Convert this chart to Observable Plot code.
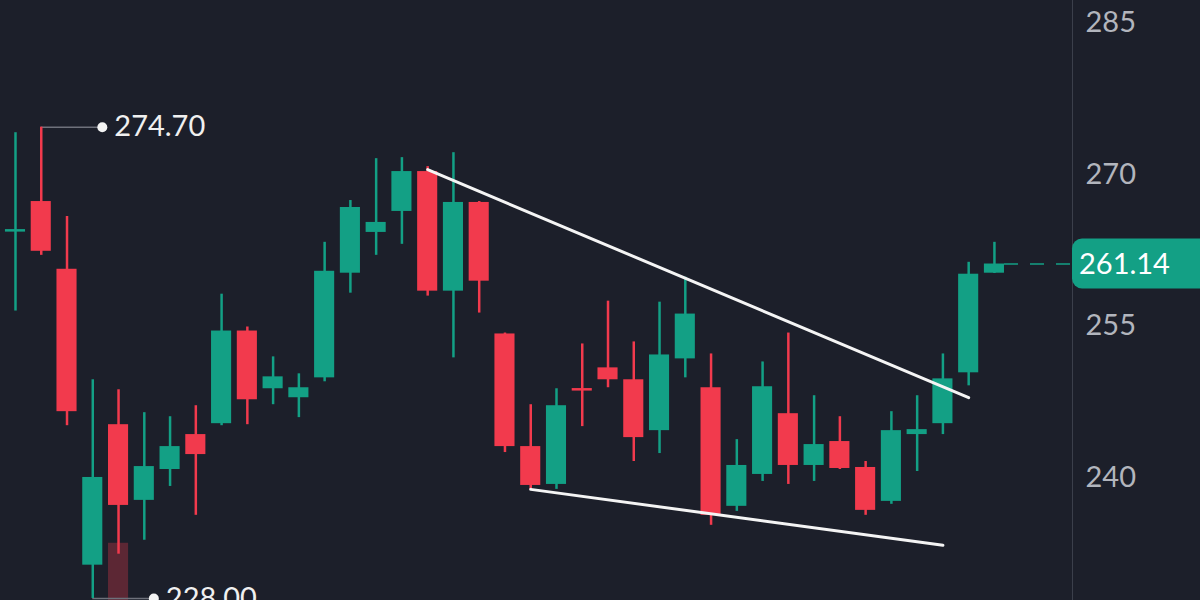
<!DOCTYPE html>
<html><head><meta charset="utf-8">
<script src="https://cdn.jsdelivr.net/npm/d3@7"></script>
<script src="https://cdn.jsdelivr.net/npm/@observablehq/plot@0.6"></script>
<style>html,body{margin:0;padding:0;background:#1c1f2a;overflow:hidden}</style>
</head><body><div id="chart"></div>
<script>
// OHLC data, one entry per candle (index 0..38)
const opens  = [264.30, 267.33, 260.62, 231.30, 245.22, 237.72, 240.78, 244.24, 245.32, 254.50, 248.78, 247.89, 249.86, 260.23, 264.27, 266.35, 270.30, 258.45, 267.24, 254.21, 243.05, 239.30, 248.80, 250.85, 249.67, 244.63, 251.74, 248.88, 237.13, 240.29, 246.31, 241.18, 243.55, 240.98, 237.62, 244.24, 245.32, 250.36, 260.23];
const highs  = [274.15, 274.70, 265.85, 249.67, 248.68, 246.41, 246.01, 247.10, 258.15, 254.90, 251.94, 250.26, 263.29, 267.43, 271.58, 271.68, 270.79, 272.17, 267.33, 254.30, 247.20, 248.78, 253.22, 257.46, 253.42, 257.36, 259.83, 252.23, 243.74, 251.44, 254.30, 248.09, 246.01, 241.57, 246.51, 248.09, 252.23, 261.31, 263.29];
const lows   = [256.48, 262.00, 245.12, 228.00, 232.39, 233.77, 239.10, 236.24, 245.12, 245.22, 247.20, 245.92, 249.47, 258.25, 262.00, 263.09, 257.96, 251.84, 256.28, 242.46, 238.71, 238.81, 245.03, 248.88, 241.57, 242.36, 249.86, 235.25, 236.63, 239.60, 239.30, 239.60, 240.78, 236.24, 237.33, 240.58, 244.24, 249.07, 260.20];
const closes = [264.55, 262.40, 246.51, 239.99, 237.22, 241.07, 243.05, 242.26, 254.50, 247.69, 249.96, 248.88, 260.42, 266.74, 265.26, 270.30, 258.45, 267.24, 259.44, 243.05, 239.20, 247.10, 248.55, 249.67, 243.94, 252.13, 256.18, 236.24, 241.18, 248.98, 241.18, 243.25, 240.88, 236.73, 244.63, 244.73, 249.76, 260.13, 261.14];

// y-axis ticks
const yTicks = [240, 255, 270, 285];

// high / low annotations
const annIndex = [1, 3];
const annPrice = [274.70, 228.00];
const annLabel = ["274.70", "228.00"];

// trend lines (candle index, price)
const upperIdx = [16, 37];
const upperPrice = [270.49, 247.89];
const lowerIdx = [20, 36];
const lowerPrice = [238.81, 233.28];

// highlighted (shaded) zone under one candle
const shadeIndex = [4];
const shadeTop = [233.47];

const candles = opens.map((o, i) => ({i, open: o, high: highs[i], low: lows[i], close: closes[i]}));
const anns = annIndex.map((i, k) => ({i, p: annPrice[k], label: annLabel[k]}));
const upper = upperIdx.map((i, k) => ({i, p: upperPrice[k]}));
const lower = lowerIdx.map((i, k) => ({i, p: lowerPrice[k]}));
const shade = shadeIndex.map((i, k) => ({i, top: shadeTop[k]}));
const last = candles[candles.length - 1];

const GREEN = "#13a085", RED = "#f23a4d", BG = "#1c1f2a";
const col = d => d.close >= d.open ? GREEN : RED;
const xDomain = [-0.582, 41.03];
const yDomain = [227.8, 287.25];
const HALF = 0.39;
const ANN_OFF = 2.37;

const plot = Plot.plot({
  width: 1200, height: 600,
  marginTop: 0, marginBottom: 0, marginLeft: 0, marginRight: 128,
  style: {background: BG, color: "#b2b5bd", fontFamily: "Lato, sans-serif"},
  x: {type: "linear", domain: xDomain, axis: null},
  y: {domain: yDomain, axis: null},
  marks: [
    Plot.rect(shade, {x1: d => d.i - HALF, x2: d => d.i + HALF, y1: "top", y2: yDomain[0], fill: RED, fillOpacity: 0.3}),
    Plot.ruleX([xDomain[1]], {stroke: "#3b3f4b", strokeWidth: 1}),
    Plot.axisY({anchor: "right", ticks: yTicks, tickSize: 0, tickPadding: 13, fontSize: 29, label: null, tickFormat: d => String(d)}),
    Plot.ruleY([last], {y: "close", x1: d => d.i + HALF, x2: xDomain[1], stroke: GREEN, strokeWidth: 1.5, strokeDasharray: "14,12"}),
    Plot.ruleY(anns, {y: "p", x1: "i", x2: d => d.i + ANN_OFF, stroke: "#6e717b", strokeWidth: 1.5}),
    Plot.ruleX(candles, {x: "i", y1: "low", y2: "high", stroke: col, strokeWidth: 2.5}),
    Plot.rect(candles, {x1: d => d.i - HALF, x2: d => d.i + HALF, y1: "open", y2: "close", fill: col}),
    Plot.line(upper, {x: "i", y: "p", stroke: "#f4f4f4", strokeWidth: 3}),
    Plot.line(lower, {x: "i", y: "p", stroke: "#f4f4f4", strokeWidth: 3}),
    Plot.dot(anns, {x: d => d.i + ANN_OFF, y: "p", r: 5, fill: "#f4f4f4"}),
    Plot.text(anns, {x: d => d.i + ANN_OFF, y: "p", text: "label", dx: 12, textAnchor: "start", fontSize: 29, fill: "#f0f0f0"})
  ]
});

// current price label on the axis
const ys = plot.scale("y"), xs = plot.scale("x");
const yc = ys.apply(last.close), x0 = xs.apply(xDomain[1]);
const svg = d3.select(plot);
svg.append("rect").attr("x", x0).attr("y", yc - 25).attr("width", 150).attr("height", 50).attr("rx", 10).attr("fill", GREEN);
svg.append("text").attr("x", x0 + 7).attr("y", yc).attr("dy", "0.35em").attr("fill", "#ffffff")
  .attr("text-anchor", "start")
  .attr("font-size", 29).attr("font-family", "Lato, sans-serif").text(last.close.toFixed(2));

document.getElementById("chart").appendChild(plot);
</script>
</body></html>
